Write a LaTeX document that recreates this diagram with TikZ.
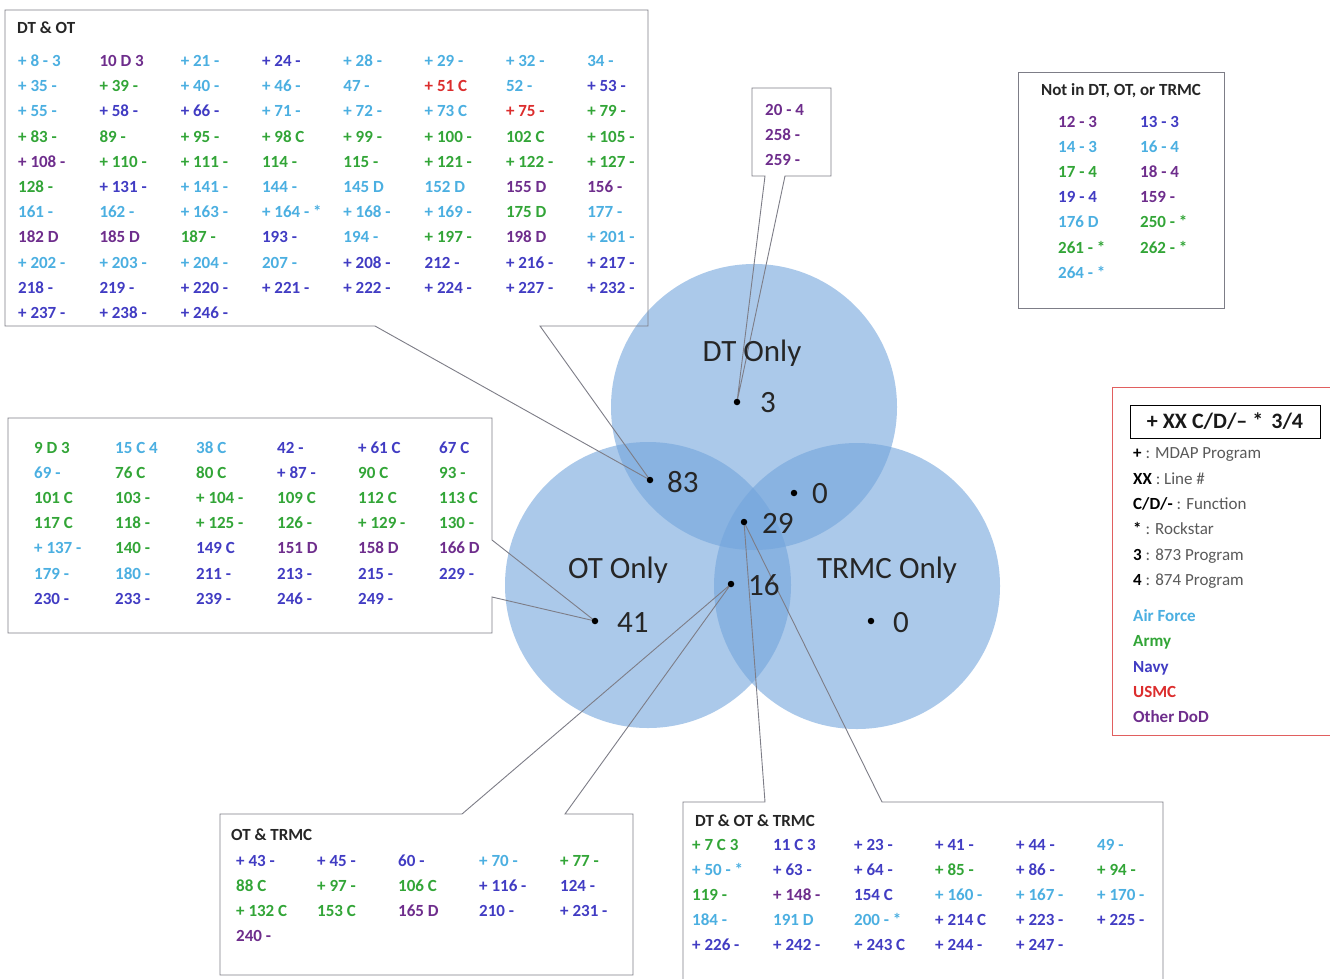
\documentclass[tikz,border=0pt]{standalone}
\usepackage{fontspec}
\setmainfont{Carlito}
\definecolor{af}{RGB}{75,175,225}
\definecolor{army}{RGB}{50,165,55}
\definecolor{navy}{RGB}{65,60,195}
\definecolor{usmc}{RGB}{220,45,45}
\definecolor{odod}{RGB}{110,45,140}
\definecolor{vennblue}{RGB}{115,165,220}
\definecolor{boxline}{RGB}{125,125,135}
\definecolor{keygray}{RGB}{90,90,90}
\definecolor{legendred}{RGB}{225,95,95}
\tikzset{
  entry/.style={anchor=base west, inner sep=0pt, font=\fontsize{17}{20}\selectfont\bfseries},
  boxtitle/.style={anchor=base west, inner sep=0pt, font=\fontsize{17}{20}\selectfont\bfseries, text=black!85},
  venn/.style={fill=vennblue, fill opacity=0.6},
  callout/.style={draw=boxline, line width=0.9pt},
  regionlabel/.style={anchor=base, inner sep=0pt, font=\fontsize{31}{36}\selectfont, text=black!85},
  countlabel/.style={anchor=base west, inner sep=0pt, font=\fontsize{31}{36}\selectfont, text=black!85},
  bulletdot/.style={circle, fill=black, inner sep=0pt, minimum size=6.5pt},
  legendtxt/.style={anchor=base west, inner sep=0pt, font=\fontsize{17}{20}\selectfont, text=keygray},
  legendcol/.style={anchor=base west, inner sep=0pt, font=\fontsize{17}{20}\selectfont\bfseries},
}
% #1 name prefix, #2 x0, #3 baseline y0, #4 columns, #5 dx, #6 dy, #7 list
\newcommand{\entrygrid}[7]{%
  \foreach \ecol/\etxt [count=\i from 0] in {#7} {%
    \pgfmathtruncatemacro\gcol{mod(\i,#4)}%
    \pgfmathtruncatemacro\grow{div(\i,#4)}%
    \node[entry, text=\ecol] (#1-\i) at ({#2+\gcol*#5}, {#3+\grow*#6}) {\etxt};
  }%
}
\begin{document}
\begin{tikzpicture}[x=1pt,y=-1pt]
\useasboundingbox (0,0) rectangle (1330,978);
\fill[white] (0,0) rectangle (1330,978);

% Venn circles
\fill[venn] (754,407) circle (143);
\fill[venn] (648,585) circle (143);
\fill[venn] (857,586) circle (143);

% dot positions
\coordinate (p3) at (737,402);
\coordinate (p83) at (650,480);
\coordinate (p0a) at (794,493);
\coordinate (p29) at (744,522);
\coordinate (p16) at (731,584);
\coordinate (p41) at (595,621);
\coordinate (p0b) at (871,621);

% callout boxes with wedge tails
\coordinate (dtotA) at (375,326);
\coordinate (dtotB) at (540,326);
\draw[callout] (5,10) -- (648,10) -- (648,326) -- (dtotB) -- (p83) -- (dtotA) -- (5,326) -- cycle;

\coordinate (dtA) at (765,176);
\coordinate (dtB) at (785,176);
\draw[callout] (752,88) -- (831,88) -- (831,176) -- (dtB) -- (p3) -- (dtA) -- (752,176) -- cycle;

\coordinate (otA) at (492,540);
\coordinate (otB) at (492,597);
\draw[callout] (8,418) -- (492,418) -- (otA) -- (p41) -- (otB) -- (492,633) -- (8,633) -- cycle;

\coordinate (ottrA) at (462,814);
\coordinate (ottrB) at (565,814);
\draw[callout] (220,814) -- (ottrA) -- (p16) -- (ottrB) -- (633,814) -- (633,975) -- (220,975) -- cycle;

\coordinate (allA) at (765,802);
\coordinate (allB) at (882,802);
\draw[callout] (683,995) -- (683,802) -- (allA) -- (p29) -- (allB) -- (1163,802) -- (1163,995);

\draw[callout] (1018,72) rectangle (1224,308);

% dots and counts
\foreach \p in {p3,p83,p0a,p29,p16,p41,p0b} \node[bulletdot] (dot-\p) at (\p) {};
\node[countlabel] (n3) at (760,412) {3};
\node[countlabel] (n83) at (667,492) {83};
\node[countlabel] (n0a) at (812,503) {0};
\node[countlabel] (n29) at (762,533) {29};
\node[countlabel] (n16) at (748,595) {16};
\node[countlabel] (n41) at (617,632) {41};
\node[countlabel] (n0b) at (893,632) {0};

\node[regionlabel] (ldt) at (752,361) {DT Only};
\node[regionlabel] (lot) at (618,578) {OT Only};
\node[regionlabel] (ltr) at (887,578) {TRMC Only};

% DT & OT
\node[boxtitle] (tdtot) at (17,33) {DT \& OT};
\entrygrid{dtot}{18}{66.5}{8}{81.3}{25.2}{
af/{+ 8 - 3}, odod/{10 D 3}, af/{+ 21 -}, navy/{+ 24 -}, af/{+ 28 -}, af/{+ 29 -}, af/{+ 32 -}, af/{34 -},
af/{+ 35 -}, army/{+ 39 -}, af/{+ 40 -}, af/{+ 46 -}, af/{47 -}, usmc/{+ 51 C}, af/{52 -}, navy/{+ 53 -},
af/{+ 55 -}, navy/{+ 58 -}, navy/{+ 66 -}, af/{+ 71 -}, af/{+ 72 -}, af/{+ 73 C}, usmc/{+ 75 -}, army/{+ 79 -},
army/{+ 83 -}, army/{89 -}, army/{+ 95 -}, army/{+ 98 C}, army/{+ 99 -}, army/{+ 100 -}, army/{102 C}, army/{+ 105 -},
odod/{+ 108 -}, army/{+ 110 -}, army/{+ 111 -}, army/{114 -}, army/{115 -}, army/{+ 121 -}, army/{+ 122 -}, army/{+ 127 -},
army/{128 -}, navy/{+ 131 -}, af/{+ 141 -}, af/{144 -}, af/{145 D}, af/{152 D}, odod/{155 D}, odod/{156 -},
af/{161 -}, af/{162 -}, af/{+ 163 -}, af/{+ 164 - *}, af/{+ 168 -}, af/{+ 169 -}, army/{175 D}, af/{177 -},
odod/{182 D}, odod/{185 D}, army/{187 -}, navy/{193 -}, af/{194 -}, army/{+ 197 -}, odod/{198 D}, af/{+ 201 -},
af/{+ 202 -}, af/{+ 203 -}, af/{+ 204 -}, af/{207 -}, navy/{+ 208 -}, navy/{212 -}, navy/{+ 216 -}, navy/{+ 217 -},
navy/{218 -}, navy/{219 -}, navy/{+ 220 -}, navy/{+ 221 -}, navy/{+ 222 -}, navy/{+ 224 -}, navy/{+ 227 -}, navy/{+ 232 -},
navy/{+ 237 -}, navy/{+ 238 -}, navy/{+ 246 -}}

% DT only box
\entrygrid{dto}{765}{115.5}{1}{0}{25}{odod/{20 - 4}, odod/{258 -}, odod/{259 -}}

% OT only
\entrygrid{oto}{34}{453.5}{6}{81}{25.1}{
army/{9 D 3}, af/{15 C 4}, af/{38 C}, navy/{42 -}, navy/{+ 61 C}, navy/{67 C},
af/{69 -}, army/{76 C}, army/{80 C}, navy/{+ 87 -}, army/{90 C}, army/{93 -},
army/{101 C}, army/{103 -}, army/{+ 104 -}, army/{109 C}, army/{112 C}, army/{113 C},
army/{117 C}, army/{118 -}, army/{+ 125 -}, army/{126 -}, army/{+ 129 -}, army/{130 -},
af/{+ 137 -}, army/{140 -}, navy/{149 C}, odod/{151 D}, odod/{158 D}, odod/{166 D},
af/{179 -}, af/{180 -}, navy/{211 -}, navy/{213 -}, navy/{215 -}, navy/{229 -},
navy/{230 -}, navy/{233 -}, navy/{239 -}, navy/{246 -}, navy/{249 -}}

% OT & TRMC
\node[boxtitle] (tottr) at (231,840.5) {OT \& TRMC};
\entrygrid{ottr}{236}{866.5}{5}{81}{25}{
navy/{+ 43 -}, navy/{+ 45 -}, navy/{60 -}, af/{+ 70 -}, army/{+ 77 -},
army/{88 C}, army/{+ 97 -}, army/{106 C}, navy/{+ 116 -}, navy/{124 -},
army/{+ 132 C}, army/{153 C}, odod/{165 D}, navy/{210 -}, navy/{+ 231 -},
odod/{240 -}}

% DT & OT & TRMC
\node[boxtitle] (tall) at (695,826.5) {DT \& OT \& TRMC};
\entrygrid{all}{692}{850.5}{6}{81}{25}{
army/{+ 7 C 3}, navy/{11 C 3}, navy/{+ 23 -}, navy/{+ 41 -}, navy/{+ 44 -}, af/{49 -},
af/{+ 50 - *}, navy/{+ 63 -}, navy/{+ 64 -}, army/{+ 85 -}, navy/{+ 86 -}, army/{+ 94 -},
army/{119 -}, odod/{+ 148 -}, navy/{154 C}, af/{+ 160 -}, af/{+ 167 -}, af/{+ 170 -},
af/{184 -}, af/{191 D}, af/{200 - *}, navy/{+ 214 C}, navy/{+ 223 -}, navy/{+ 225 -},
navy/{+ 226 -}, navy/{+ 242 -}, navy/{+ 243 C}, navy/{+ 244 -}, navy/{+ 247 -}}

% Not in DT, OT, or TRMC
\node[boxtitle, anchor=base] (tnot) at (1121,95.5) {Not in DT, OT, or TRMC};
\entrygrid{not}{1058}{127.5}{2}{82}{25.1}{
odod/{12 - 3}, navy/{13 - 3}, af/{14 - 3}, af/{16 - 4}, army/{17 - 4}, odod/{18 - 4},
navy/{19 - 4}, odod/{159 -}, af/{176 D}, army/{250 - *}, army/{261 - *}, army/{262 - *},
af/{264 - *}}

% Legend
\draw[legendred, line width=1pt] (1112,387) rectangle (1345,735);
\node[draw=black, line width=1pt, minimum width=190pt, minimum height=33pt, inner sep=0pt,
      font=\fontsize{22}{26}\selectfont\bfseries, text=black!90] (lhead) at (1225,421.5) {+ XX C/D/– *\hspace{8pt}3/4};
\node[legendtxt] (l1) at (1133,458.5) {{\color{black}\bfseries +} : MDAP Program};
\node[legendtxt] (l2) at (1133,484.5) {{\color{black}\bfseries XX} : Line \#};
\node[legendtxt] (l3) at (1133,509.5) {{\color{black}\bfseries C/D/-} : Function};
\node[legendtxt] (l4) at (1133,534.5) {{\color{black}\bfseries *} : Rockstar};
\node[legendtxt] (l5) at (1133,560.5) {{\color{black}\bfseries 3} : 873 Program};
\node[legendtxt] (l6) at (1133,585.5) {{\color{black}\bfseries 4} : 874 Program};
\node[legendcol, text=af] (laf) at (1133,621.5) {Air Force};
\node[legendcol, text=army] (larmy) at (1133,646.5) {Army};
\node[legendcol, text=navy] (lnavy) at (1133,672.5) {Navy};
\node[legendcol, text=usmc] (lusmc) at (1133,697.5) {USMC};
\node[legendcol, text=odod] (lodod) at (1133,722.5) {Other DoD};
\end{tikzpicture}
\end{document}
